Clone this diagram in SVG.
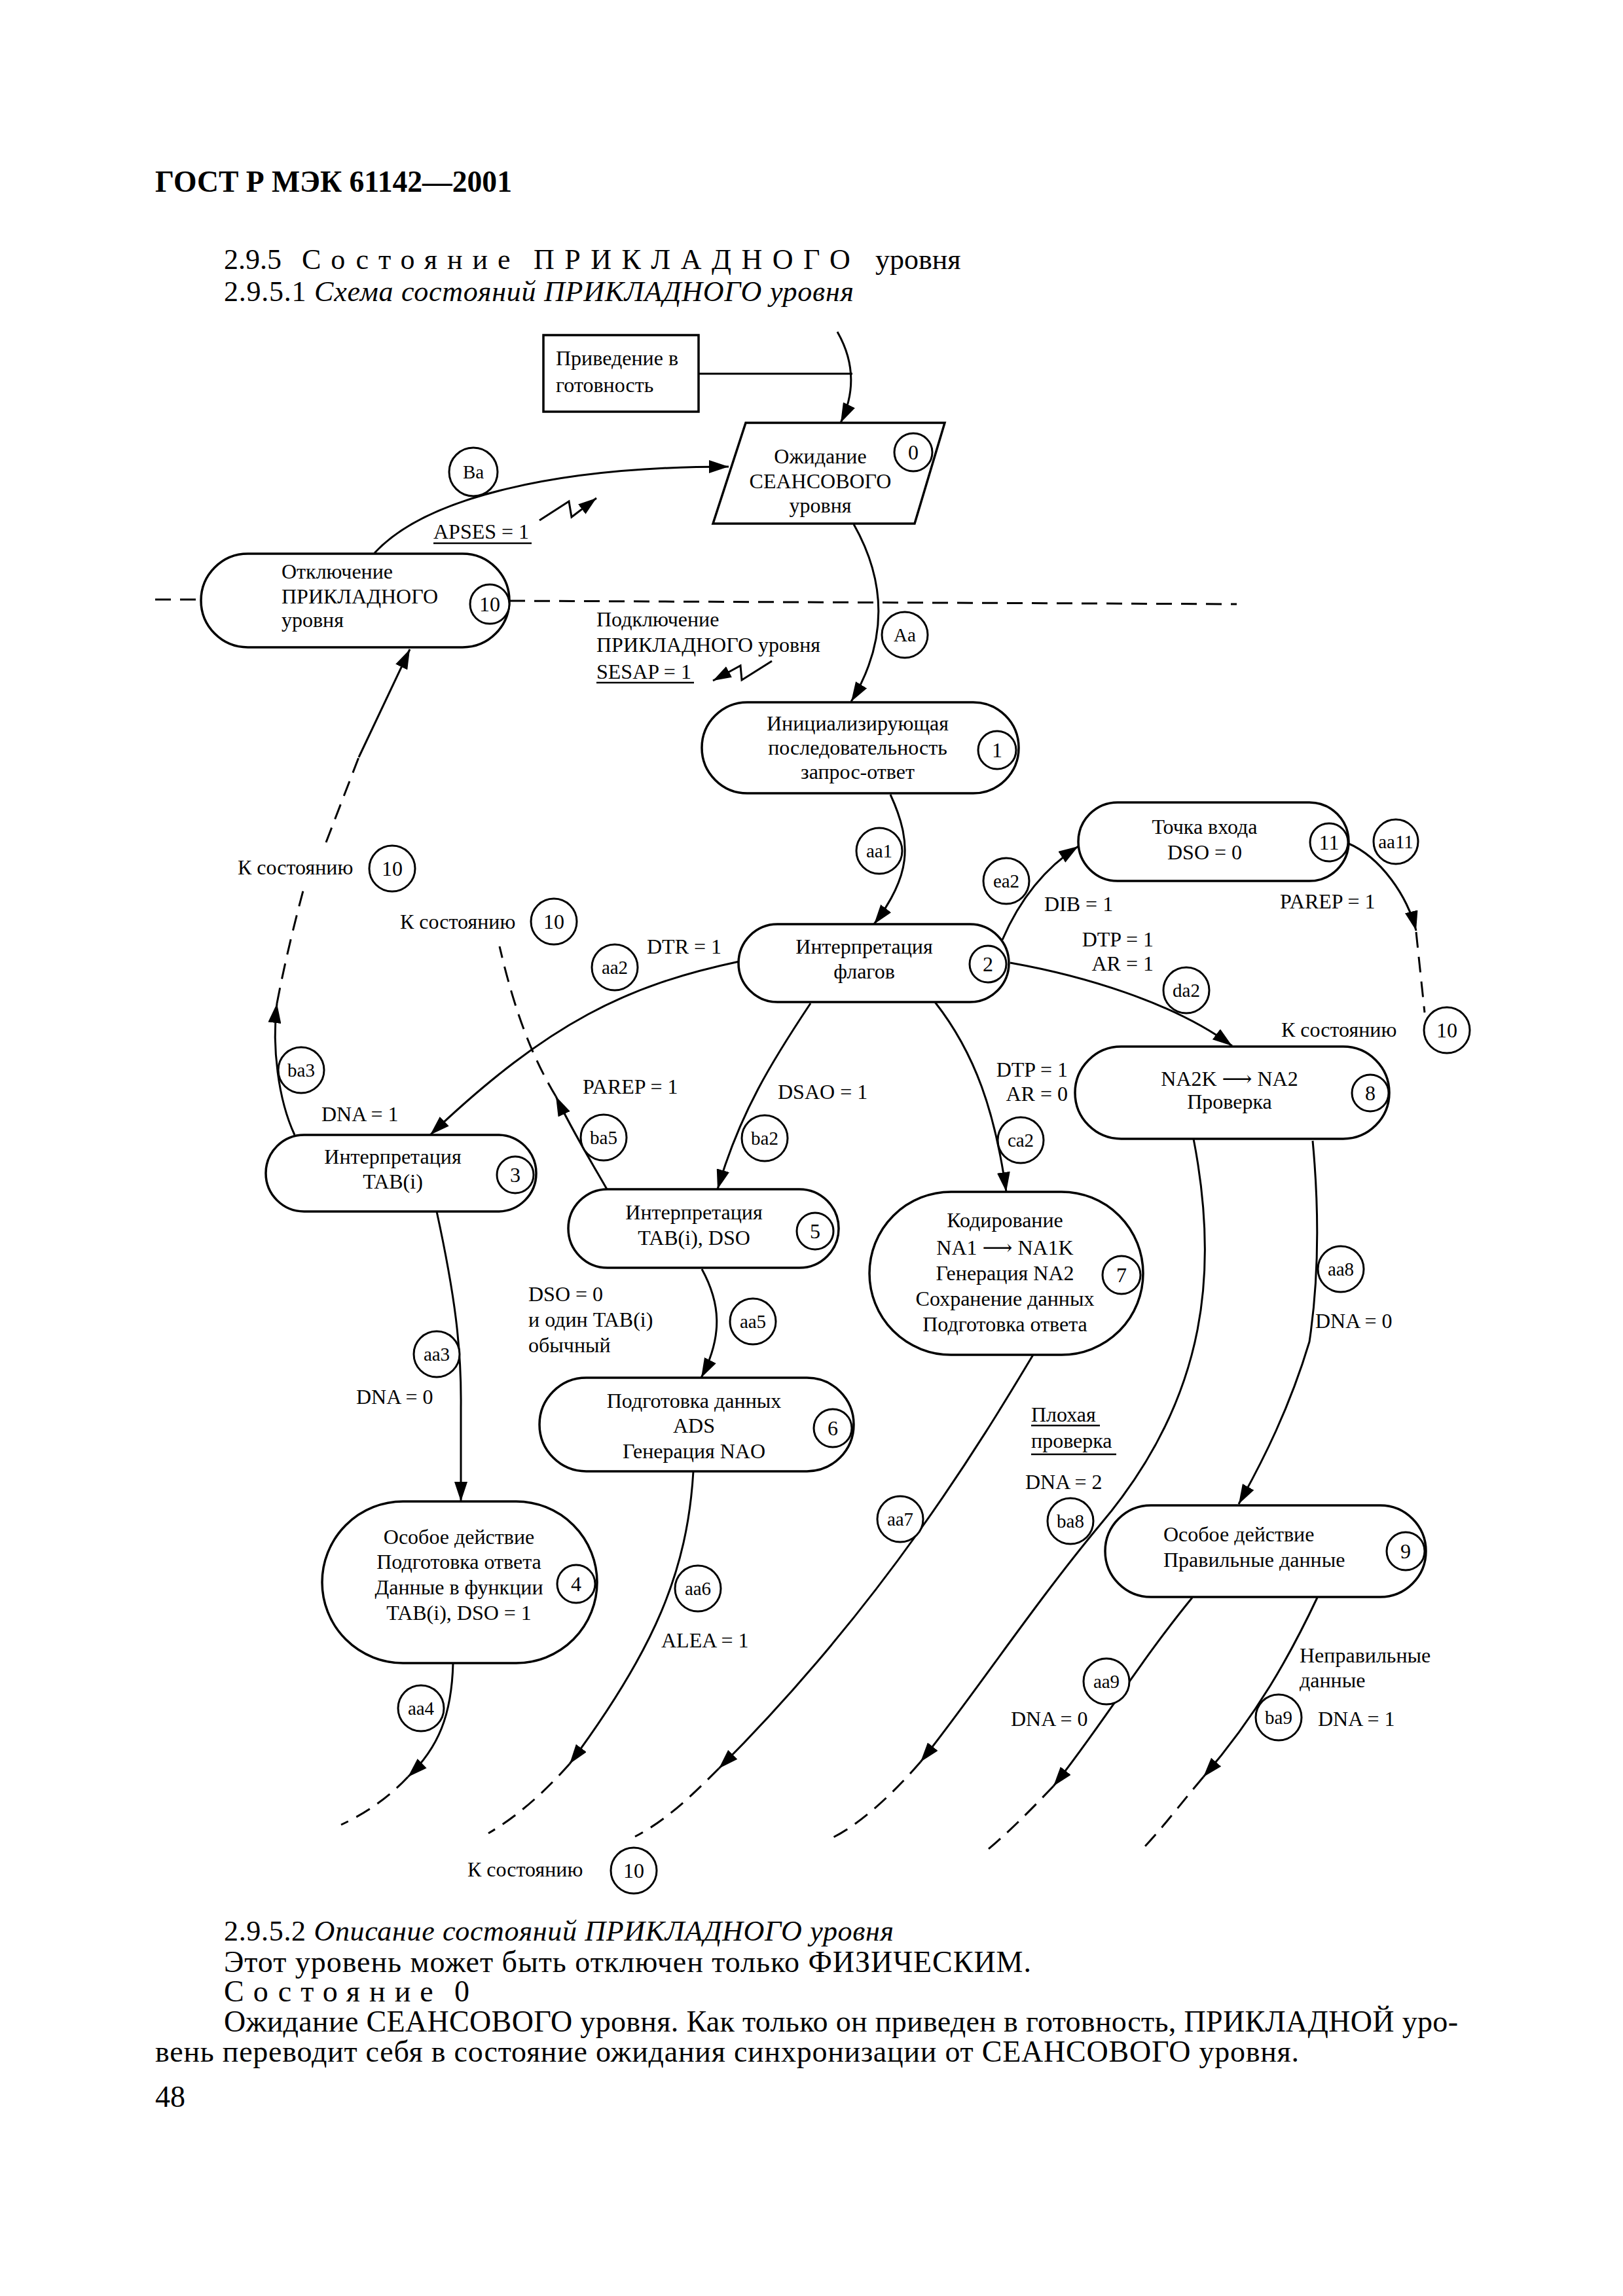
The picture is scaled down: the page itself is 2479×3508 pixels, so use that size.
<svg xmlns="http://www.w3.org/2000/svg" width="2479" height="3508" viewBox="0 0 2479 3508">
<style>
.bg{fill:#fff}
.t{font-family:"Liberation Serif","DejaVu Serif",serif;font-size:32px;fill:#000}
.lb{font-family:"Liberation Serif","DejaVu Serif",serif;font-size:29px;fill:#000;text-anchor:middle}
.c{text-anchor:middle}
.e{text-anchor:end}
.pg{font-family:"Liberation Serif","DejaVu Serif",serif;fill:#000}
.node{fill:#fff;stroke:#000;stroke-width:3.5}
.num{fill:#fff;stroke:#000;stroke-width:3}
.lc{fill:#fff;stroke:#000;stroke-width:3}
.edge{fill:none;stroke:#000;stroke-width:3}
.dash{fill:none;stroke:#000;stroke-width:3;stroke-dasharray:24 14}
.ul{stroke:#000;stroke-width:2.5}
</style>
<defs>
<marker id="ah" viewBox="0 0 30 20" refX="30" refY="10" markerWidth="30" markerHeight="20" markerUnits="userSpaceOnUse" orient="auto"><path d="M0,0 L30,10 L0,20 z" fill="#000"/></marker>
<marker id="ahs" viewBox="0 0 30 20" refX="30" refY="10" markerWidth="28" markerHeight="19" markerUnits="userSpaceOnUse" orient="auto"><path d="M0,0 L30,10 L0,20 z" fill="#000"/></marker>
</defs>
<rect class="bg" x="0" y="0" width="2479" height="3508"/>

<g id="page-text">
<text class="pg" x="237" y="293" font-size="46" font-weight="bold" textLength="545" lengthAdjust="spacingAndGlyphs">ГОСТ Р МЭК 61142—2001</text>
<text class="pg" x="342" y="411" font-size="44">2.9.5</text>
<text class="pg" x="461" y="411" font-size="44" letter-spacing="15">Состояние</text>
<text class="pg" x="815" y="411" font-size="44" letter-spacing="15.5">ПРИКЛАДНОГО</text>
<text class="pg" x="1337" y="411" font-size="44">уровня</text>
<text class="pg" x="342" y="460" font-size="44" textLength="962">2.9.5.1 <tspan font-style="italic">Схема состояний ПРИКЛАДНОГО уровня</tspan></text>
<text class="pg" x="342" y="2965" font-size="44" textLength="1023">2.9.5.2 <tspan font-style="italic">Описание состояний ПРИКЛАДНОГО уровня</tspan></text>
<text class="pg" x="342" y="3013" font-size="46" textLength="1233">Этот уровень может быть отключен только ФИЗИЧЕСКИМ.</text>
<text class="pg" x="342" y="3058" font-size="46" letter-spacing="14">Состояние</text>
<text class="pg" x="694" y="3058" font-size="46">0</text>
<text class="pg" x="342" y="3104" font-size="46" textLength="1885">Ожидание СЕАНСОВОГО уровня. Как только он приведен в готовность, ПРИКЛАДНОЙ уро-</text>
<text class="pg" x="237" y="3150" font-size="46" textLength="1747">вень переводит себя в состояние ожидания синхронизации от СЕАНСОВОГО уровня.</text>
<text class="pg" x="237" y="3219" font-size="46">48</text>
</g>

<g id="separator">
<line class="dash" x1="237" y1="916" x2="307" y2="916"/>
<line class="dash" x1="778" y1="918" x2="1889" y2="923"/>
</g>

<g id="connectors">
<line class="edge" x1="1067" y1="571" x2="1302" y2="571"/>
<path class="edge" d="M1279,507 Q1318,575 1284,646" marker-end="url(#ah)"/>
<path class="edge" d="M572,845 C650,760 850,713 1113,713" marker-end="url(#ah)"/>
<path class="edge" d="M1304,801 C1360,900 1350,990 1300,1072" marker-end="url(#ah)"/>
<polyline class="edge" points="824,795 869,766 873,790 911,761" marker-end="url(#ahs)"/>
<polyline class="edge" points="1179,1010 1133,1039 1131,1017 1089,1040" marker-end="url(#ahs)"/>
<path class="edge" d="M1360,1214 C1395,1290 1390,1340 1335,1412" marker-end="url(#ah)"/>
<path class="edge" d="M1531,1436 C1555,1380 1590,1330 1647,1293" marker-end="url(#ah)"/>
<path class="edge" d="M2058,1288 C2110,1310 2150,1370 2163,1422" marker-end="url(#ah)"/>
<path class="dash" d="M2163,1424 L2176,1547"/>
<path class="edge" d="M1543,1471 C1650,1490 1790,1530 1882,1598" marker-end="url(#ah)"/>
<path class="edge" d="M1428,1531 C1490,1610 1520,1700 1537,1821" marker-end="url(#ah)"/>
<path class="edge" d="M1238,1533 C1180,1620 1130,1700 1096,1817" marker-end="url(#ah)"/>
<path class="edge" d="M1129,1469 C960,1505 840,1560 657,1734" marker-end="url(#ah)"/>
<path class="edge" d="M450,1734 C425,1680 415,1600 423,1533" marker-end="url(#ah)"/>
<path class="dash" d="M423,1533 C435,1470 450,1410 463,1361"/>
<path class="dash" d="M498,1287 L548,1157"/>
<path class="edge" d="M548,1157 L626,992" marker-end="url(#ah)"/>
<path class="edge" d="M927,1817 C900,1770 870,1720 849,1675" marker-end="url(#ah)"/>
<path class="dash" d="M849,1675 C810,1610 785,1540 763,1446"/>
<path class="edge" d="M1072,1939 C1100,1990 1105,2040 1071,2105" marker-end="url(#ah)"/>
<path class="edge" d="M667,1851 C695,1980 705,2060 704,2150 L704,2294" marker-end="url(#ah)"/>
<path class="edge" d="M692,2541 C690,2620 670,2670 623,2715" marker-end="url(#ah)"/>
<path class="dash" d="M623,2715 C590,2750 555,2772 521,2788"/>
<path class="edge" d="M1059,2248 C1050,2400 1000,2520 870,2695" marker-end="url(#ah)"/>
<path class="dash" d="M870,2695 C830,2740 790,2775 746,2801"/>
<path class="edge" d="M1578,2070 C1500,2200 1350,2450 1098,2702" marker-end="url(#ah)"/>
<path class="dash" d="M1098,2702 C1060,2740 1020,2780 970,2806"/>
<path class="edge" d="M1823,1740 C1860,1930 1850,2130 1680,2330 C1580,2450 1480,2600 1406,2692" marker-end="url(#ah)"/>
<path class="dash" d="M1406,2692 C1360,2745 1310,2790 1267,2810"/>
<path class="edge" d="M2005,1743 C2015,1850 2015,1950 2000,2050 C1970,2150 1930,2230 1892,2298" marker-end="url(#ah)"/>
<path class="edge" d="M1821,2441 C1740,2540 1680,2640 1609,2729" marker-end="url(#ah)"/>
<path class="dash" d="M1609,2729 C1570,2770 1540,2800 1504,2830"/>
<path class="edge" d="M2012,2441 C1970,2530 1920,2620 1838,2715" marker-end="url(#ah)"/>
<path class="dash" d="M1838,2715 C1800,2760 1770,2800 1743,2827"/>
</g>

<g id="node-ready">
<rect class="node" x="830" y="512" width="237" height="117"/>
<text class="t" x="849" y="558">Приведение в</text>
<text class="t" x="849" y="599">готовность</text>
</g>

<g id="node-0">
<polygon class="node" points="1139,646 1443,646 1397,800 1089,800"/>
<text class="t c" x="1253" y="708">Ожидание</text>
<text class="t c" x="1253" y="746">СЕАНСОВОГО</text>
<text class="t c" x="1253" y="783">уровня</text>
<circle class="num" cx="1395" cy="691" r="29"/>
<text class="t c" x="1395" y="702">0</text>
</g>

<g id="node-10">
<rect class="node" x="307" y="846" width="471" height="143" rx="71.5"/>
<text class="t" x="430" y="884">Отключение</text>
<text class="t" x="430" y="922">ПРИКЛАДНОГО</text>
<text class="t" x="430" y="958">уровня</text>
<circle class="num" cx="748" cy="923" r="30"/>
<text class="t c" x="748" y="934">10</text>
</g>

<g id="node-1">
<rect class="node" x="1072" y="1073" width="484" height="139" rx="69.5"/>
<text class="t c" x="1310" y="1116">Инициализирующая</text>
<text class="t c" x="1310" y="1153">последовательность</text>
<text class="t c" x="1310" y="1190">запрос-ответ</text>
<circle class="num" cx="1523" cy="1146" r="29"/>
<text class="t c" x="1523" y="1157">1</text>
</g>

<g id="node-11">
<rect class="node" x="1647" y="1226" width="413" height="120" rx="60"/>
<text class="t c" x="1840" y="1274">Точка входа</text>
<text class="t c" x="1840" y="1313">DSO = 0</text>
<circle class="num" cx="2030" cy="1287" r="29"/>
<text class="t c" x="2030" y="1298">11</text>
</g>

<g id="node-2">
<rect class="node" x="1128" y="1412" width="413" height="119" rx="59.5"/>
<text class="t c" x="1320" y="1457">Интерпретация</text>
<text class="t c" x="1320" y="1495">флагов</text>
<circle class="num" cx="1509" cy="1473" r="28"/>
<text class="t c" x="1509" y="1484">2</text>
</g>

<g id="node-8">
<rect class="node" x="1642" y="1599" width="480" height="141" rx="70.5"/>
<text class="t c" x="1878" y="1659">NA2K ⟶ NA2</text>
<text class="t c" x="1878" y="1694">Проверка</text>
<circle class="num" cx="2093" cy="1670" r="28"/>
<text class="t c" x="2093" y="1681">8</text>
</g>

<g id="node-3">
<rect class="node" x="406" y="1734" width="413" height="117" rx="58.5"/>
<text class="t c" x="600" y="1778">Интерпретация</text>
<text class="t c" x="600" y="1816">TAB(i)</text>
<circle class="num" cx="787" cy="1795" r="28"/>
<text class="t c" x="787" y="1806">3</text>
</g>

<g id="node-5">
<rect class="node" x="868" y="1817" width="413" height="120" rx="60"/>
<text class="t c" x="1060" y="1863">Интерпретация</text>
<text class="t c" x="1060" y="1902">TAB(i), DSO</text>
<circle class="num" cx="1245" cy="1881" r="28"/>
<text class="t c" x="1245" y="1892">5</text>
</g>

<g id="node-7">
<rect class="node" x="1328" y="1821" width="418" height="249" rx="124.5"/>
<text class="t c" x="1535" y="1875">Кодирование</text>
<text class="t c" x="1535" y="1917">NA1 ⟶ NA1K</text>
<text class="t c" x="1535" y="1956">Генерация NA2</text>
<text class="t c" x="1535" y="1995">Сохранение данных</text>
<text class="t c" x="1535" y="2034">Подготовка ответа</text>
<circle class="num" cx="1713" cy="1948" r="29"/>
<text class="t c" x="1713" y="1959">7</text>
</g>

<g id="node-6">
<rect class="node" x="824" y="2105" width="480" height="143" rx="71.5"/>
<text class="t c" x="1060" y="2151">Подготовка данных</text>
<text class="t c" x="1060" y="2189">ADS</text>
<text class="t c" x="1060" y="2228">Генерация NAO</text>
<circle class="num" cx="1272" cy="2182" r="29"/>
<text class="t c" x="1272" y="2193">6</text>
</g>

<g id="node-4">
<rect class="node" x="492" y="2294" width="420" height="247" rx="123.5"/>
<text class="t c" x="701" y="2359">Особое действие</text>
<text class="t c" x="701" y="2397">Подготовка ответа</text>
<text class="t c" x="701" y="2436">Данные в функции</text>
<text class="t c" x="701" y="2475">TAB(i), DSO = 1</text>
<circle class="num" cx="880" cy="2420" r="29"/>
<text class="t c" x="880" y="2431">4</text>
</g>

<g id="node-9">
<rect class="node" x="1688" y="2300" width="490" height="140" rx="70"/>
<text class="t" x="1777" y="2355">Особое действие</text>
<text class="t" x="1777" y="2394">Правильные данные</text>
<circle class="num" cx="2147" cy="2370" r="29"/>
<text class="t c" x="2147" y="2381">9</text>
</g>

<g id="edge-labels">
<circle class="lc" cx="723" cy="721" r="37"/><text class="lb" x="723" y="731">Ba</text>
<circle class="lc" cx="1382" cy="970" r="35"/><text class="lb" x="1382" y="980">Aa</text>
<circle class="lc" cx="1343" cy="1300" r="35"/><text class="lb" x="1343" y="1310">aa1</text>
<circle class="lc" cx="1537" cy="1346" r="35"/><text class="lb" x="1537" y="1356">ea2</text>
<circle class="lc" cx="2132" cy="1286" r="34"/><text class="lb" x="2132" y="1296">aa11</text>
<circle class="lc" cx="1812" cy="1513" r="35"/><text class="lb" x="1812" y="1523">da2</text>
<circle class="lc" cx="1559" cy="1742" r="35"/><text class="lb" x="1559" y="1752">ca2</text>
<circle class="lc" cx="1168" cy="1739" r="35"/><text class="lb" x="1168" y="1749">ba2</text>
<circle class="lc" cx="939" cy="1478" r="35"/><text class="lb" x="939" y="1488">aa2</text>
<circle class="lc" cx="460" cy="1635" r="35"/><text class="lb" x="460" y="1645">ba3</text>
<circle class="lc" cx="922" cy="1738" r="35"/><text class="lb" x="922" y="1748">ba5</text>
<circle class="lc" cx="1150" cy="2019" r="35"/><text class="lb" x="1150" y="2029">aa5</text>
<circle class="lc" cx="667" cy="2069" r="35"/><text class="lb" x="667" y="2079">aa3</text>
<circle class="lc" cx="643" cy="2610" r="35"/><text class="lb" x="643" y="2620">aa4</text>
<circle class="lc" cx="1066" cy="2427" r="35"/><text class="lb" x="1066" y="2437">aa6</text>
<circle class="lc" cx="1375" cy="2321" r="35"/><text class="lb" x="1375" y="2331">aa7</text>
<circle class="lc" cx="1635" cy="2324" r="35"/><text class="lb" x="1635" y="2334">ba8</text>
<circle class="lc" cx="2048" cy="1939" r="35"/><text class="lb" x="2048" y="1949">aa8</text>
<circle class="lc" cx="1690" cy="2569" r="35"/><text class="lb" x="1690" y="2579">aa9</text>
<circle class="lc" cx="1953" cy="2624" r="35"/><text class="lb" x="1953" y="2634">ba9</text>

<text class="t" x="662" y="823">APSES = 1</text>
<line class="ul" x1="662" y1="830" x2="812" y2="830"/>
<text class="t" x="911" y="957">Подключение</text>
<text class="t" x="911" y="996">ПРИКЛАДНОГО уровня</text>
<text class="t" x="911" y="1037">SESAP = 1</text>
<line class="ul" x1="911" y1="1043" x2="1060" y2="1043"/>
<text class="t" x="1595" y="1392">DIB = 1</text>
<text class="t" x="1955" y="1388">PAREP = 1</text>
<text class="t e" x="1762" y="1446">DTP = 1</text>
<text class="t e" x="1762" y="1483">AR = 1</text>
<text class="t" x="988" y="1457">DTR = 1</text>
<text class="t" x="491" y="1713">DNA = 1</text>
<text class="t" x="890" y="1671">PAREP = 1</text>
<text class="t" x="1188" y="1679">DSAO = 1</text>
<text class="t e" x="1631" y="1645">DTP = 1</text>
<text class="t e" x="1631" y="1682">AR = 0</text>
<text class="t" x="807" y="1988">DSO = 0</text>
<text class="t" x="807" y="2027">и один TAB(i)</text>
<text class="t" x="807" y="2066">обычный</text>
<text class="t" x="544" y="2145">DNA = 0</text>
<text class="t" x="1010" y="2517">ALEA = 1</text>
<text class="t" x="1575" y="2172">Плохая</text>
<line class="ul" x1="1575" y1="2178" x2="1680" y2="2178"/>
<text class="t" x="1575" y="2212">проверка</text>
<line class="ul" x1="1575" y1="2222" x2="1705" y2="2222"/>
<text class="t" x="1566" y="2275">DNA = 2</text>
<text class="t" x="2009" y="2029">DNA = 0</text>
<text class="t" x="1544" y="2637">DNA = 0</text>
<text class="t" x="1985" y="2540">Неправильные</text>
<text class="t" x="1985" y="2578">данные</text>
<text class="t" x="2013" y="2637">DNA = 1</text>

<text class="t" x="363" y="1336">К состоянию</text>
<circle class="lc" cx="599" cy="1327" r="35"/><text class="t c" x="599" y="1338">10</text>
<text class="t" x="611" y="1419">К состоянию</text>
<circle class="lc" cx="846" cy="1408" r="35"/><text class="t c" x="846" y="1419">10</text>
<text class="t" x="1957" y="1584">К состоянию</text>
<circle class="lc" cx="2210" cy="1574" r="35"/><text class="t c" x="2210" y="1585">10</text>
<text class="t" x="714" y="2867">К состоянию</text>
<circle class="lc" cx="968" cy="2858" r="35"/><text class="t c" x="968" y="2869">10</text>
</g>
</svg>
